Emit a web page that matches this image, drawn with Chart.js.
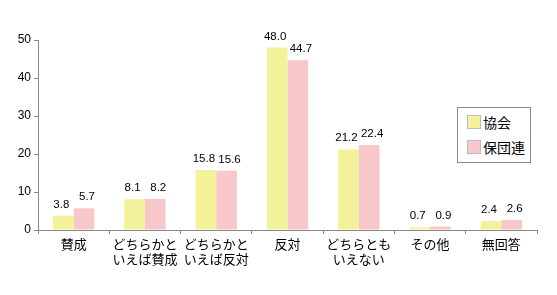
<!DOCTYPE html>
<html lang="ja">
<head>
  <meta charset="UTF-8">
  <title>賛否の比較</title>
  <script src="https://cdn.jsdelivr.net/npm/chart.js"></script>
  <style>
    html, body { margin: 0; padding: 0; background: #fff; }
    #wrap { position: relative; width: 557px; height: 295px; }
    #legend {
      position: absolute; left: 457px; top: 107px; width: 72px; height: 54px;
      border: 1px solid #888; background: #fff;
      font-family: "Noto Sans CJK JP", sans-serif; font-size: 14px; color: #000;
    }
    .item { position: absolute; left: 9px; height: 14px; line-height: 14px; white-space: nowrap; }
    .item span.sw { display: inline-block; width: 12px; height: 12px; border: 1px solid #bbb; vertical-align: top; margin-right: 2px; }
  </style>
</head>
<body>
  <div id="wrap">
    <canvas id="chart" width="557" height="295"></canvas>
    <div id="legend"></div>
  </div>

  <script>
    const categories = [
      ["賛成"],
      ["どちらかと", "いえば賛成"],
      ["どちらかと", "いえば反対"],
      ["反対"],
      ["どちらとも", "いえない"],
      ["その他"],
      ["無回答"]
    ];
    const seriesNames = ["協会", "保団連"];
    const kyokai = [3.8, 8.1, 15.8, 48.0, 21.2, 0.7, 2.4];
    const hodanren = [5.7, 8.2, 15.6, 44.7, 22.4, 0.9, 2.6];
    const yTicks = [0, 10, 20, 30, 40, 50];

    const colors = ["#f3f29b", "#f8c7c9"];

    // legend box
    const legend = document.getElementById("legend");
    seriesNames.forEach((name, i) => {
      const d = document.createElement("div");
      d.className = "item";
      d.style.top = (7 + i * 25) + "px";
      d.innerHTML = '<span class="sw" style="background:' + colors[i] + '"></span>' + name;
      legend.appendChild(d);
    });

    // value labels above bars (pushed slightly apart like the original)
    const valueLabels = {
      id: "valueLabels",
      afterDatasetsDraw(chart) {
        const ctx = chart.ctx;
        ctx.save();
        ctx.font = "11.5px 'Liberation Sans', Arial, sans-serif";
        ctx.fillStyle = "#000";
        ctx.textAlign = "center";
        ctx.textBaseline = "alphabetic";
        chart.data.datasets.forEach((ds, i) => {
          const dx = i === 0 ? -2 : 3;
          chart.getDatasetMeta(i).data.forEach((bar, j) => {
            ctx.fillText(ds.data[j].toFixed(1), bar.x + dx, bar.y - 8);
          });
        });
        ctx.restore();
      }
    };

    new Chart(document.getElementById("chart"), {
      type: "bar",
      data: {
        labels: categories,
        datasets: [
          { label: seriesNames[0], data: kyokai, backgroundColor: colors[0] },
          { label: seriesNames[1], data: hodanren, backgroundColor: colors[1] }
        ]
      },
      options: {
        responsive: false,
        animation: false,
        layout: { padding: { top: 40, right: 20, left: 0, bottom: 0 } },
        plugins: { legend: { display: false }, tooltip: { enabled: false } },
        datasets: { bar: { categoryPercentage: 0.58, barPercentage: 1.0 } },
        scales: {
          x: {
            grid: { display: true, drawOnChartArea: false, offset: true, color: "#888", tickLength: 4 },
            border: { color: "#888" },
            ticks: {
              color: "#000",
              font: { family: "'Noto Sans CJK JP', sans-serif", size: 13, lineHeight: 1.15 },
              maxRotation: 0, autoSkip: false, padding: 3
            },
            afterFit(s) { s.height = 65; }
          },
          y: {
            min: 0, max: 50,
            grid: { display: true, drawOnChartArea: false, color: "#888", tickLength: 4 },
            border: { color: "#888" },
            ticks: {
              stepSize: 10, color: "#000",
              font: { family: "'Liberation Sans', Arial, sans-serif", size: 12 },
              padding: 3
            },
            afterBuildTicks(s) { s.ticks = yTicks.map(v => ({ value: v })); },
            afterFit(s) { s.width = 38; }
          }
        }
      },
      plugins: [valueLabels]
    });
  </script>
</body>
</html>
